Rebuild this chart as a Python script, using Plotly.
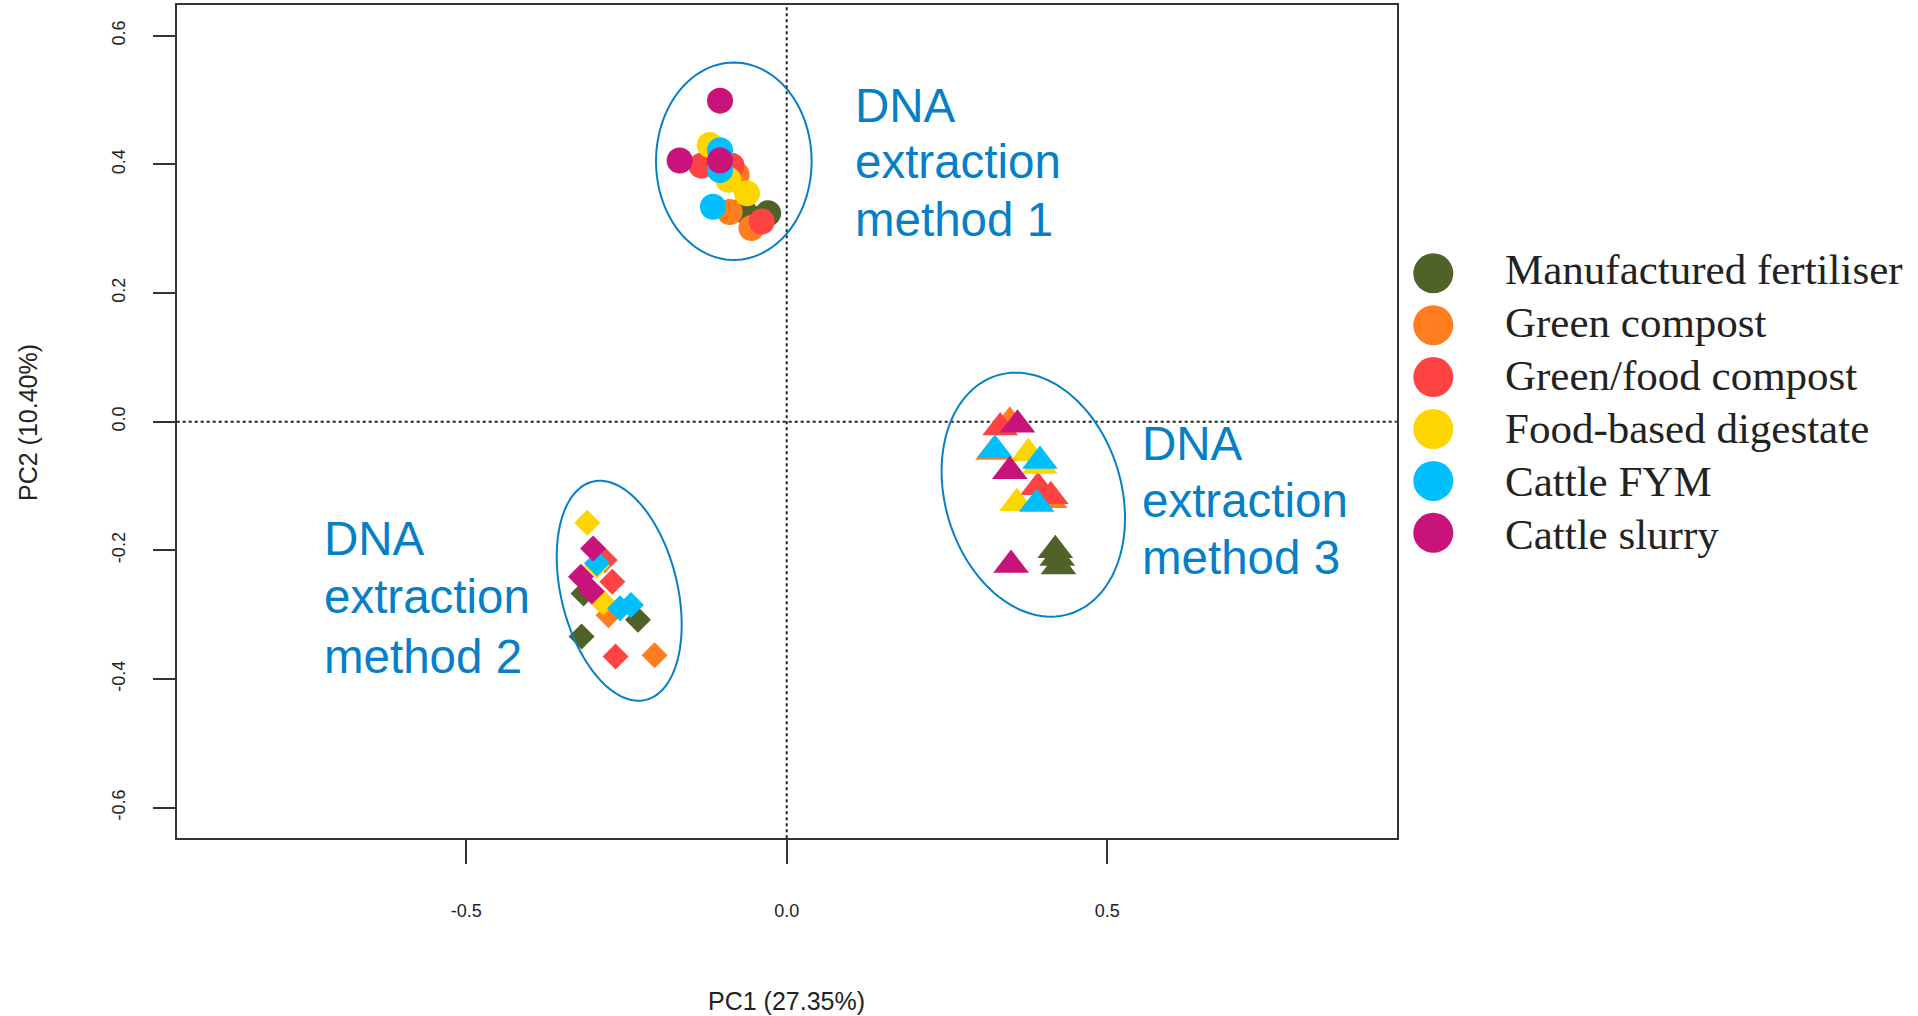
import math
import plotly.graph_objects as go

# ---------------- data ----------------
groups = ["Manufactured fertiliser", "Green compost", "Green/food compost",
          "Food-based digestate", "Cattle FYM", "Cattle slurry"]
group_codes = ["MF", "GC", "GFC", "FD", "FYM", "CS"]
group_colors = ["#4F6228", "#FF7D1F", "#FF4343", "#FFD500", "#00BFFF", "#C8137A"]

# DNA extraction method 1 (circles)
m1_group = ["MF", "MF", "MF", "GC", "GC", "GC", "GFC", "GFC", "GFC",
            "FD", "FD", "FD", "FYM", "FYM", "FYM", "CS", "CS", "CS"]
m1_pc1 = [-0.068, -0.029, -0.048, -0.078, -0.089, -0.055, -0.133, -0.039, -0.086,
          -0.120, -0.091, -0.062, -0.104, -0.104, -0.115, -0.104, -0.167, -0.104]
m1_pc2 = [0.329, 0.324, 0.315, 0.384, 0.326, 0.301, 0.398, 0.311, 0.398,
          0.430, 0.376, 0.355, 0.422, 0.391, 0.334, 0.499, 0.406, 0.406]

# DNA extraction method 2 (diamonds)
m2_group = ["MF", "MF", "MF", "GC", "GC", "GC", "GFC", "GFC", "GFC",
            "FD", "FD", "FD", "FYM", "FYM", "FYM", "CS", "CS", "CS"]
m2_pc1 = [-0.317, -0.232, -0.320, -0.278, -0.206, -0.294, -0.284, -0.272, -0.267,
          -0.311, -0.296, -0.286, -0.296, -0.260, -0.243, -0.302, -0.321, -0.304]
m2_pc2 = [-0.267, -0.308, -0.334, -0.301, -0.363, -0.274, -0.215, -0.249, -0.365,
          -0.157, -0.224, -0.281, -0.220, -0.290, -0.285, -0.197, -0.241, -0.264]

# DNA extraction method 3 (triangles)
m3_group = ["MF", "MF", "MF", "GC", "GC", "GC", "GFC", "GFC", "GFC",
            "FD", "FD", "FD", "FYM", "FYM", "FYM", "CS", "CS", "CS"]
m3_pc1 = [0.419, 0.422, 0.424, 0.348, 0.322, 0.410, 0.333, 0.392, 0.412,
          0.377, 0.359, 0.395, 0.325, 0.395, 0.390, 0.360, 0.348, 0.350]
m3_pc2 = [-0.200, -0.212, -0.225, 0.000, -0.047, -0.122, -0.009, -0.102, -0.116,
          -0.049, -0.127, -0.069, -0.044, -0.061, -0.128, -0.005, -0.077, -0.223]

x_tick_vals = [-0.5, 0.0, 0.5]
x_tick_text = ["-0.5", "0.0", "0.5"]
y_tick_vals = [-0.6, -0.4, -0.2, 0.0, 0.2, 0.4, 0.6]
y_tick_text = ["-0.6", "-0.4", "-0.2", "0.0", "0.2", "0.4", "0.6"]

x_title = "PC1 (27.35%)"
y_title = "PC2 (10.40%)"
method_labels = [["DNA", "extraction", "method 1"],
                 ["DNA", "extraction", "method 2"],
                 ["DNA", "extraction", "method 3"]]

# ---------------- layout geometry (pixels) ----------------
W, H = 1918, 1016
PL, PR, PT, PB = 176.7, 1396.7, 5.0, 838.3
XR = [-0.9516, 0.9516]
YR = [-0.6477, 0.6477]
SX = (PR - PL) / (XR[1] - XR[0])
SY = (PB - PT) / (YR[1] - YR[0])

BLUE = "#0580C8"
TXT = "#222222"

fig = go.Figure()

methods = [(m1_group, m1_pc1, m1_pc2, "circle", 26),
           (m2_group, m2_pc1, m2_pc2, "diamond", 20),
           (m3_group, m3_pc1, m3_pc2, "triangle-up", 31)]

for gname, code, col in zip(groups, group_codes, group_colors):
    for mg, mx, my, sym, size in methods:
        xs = [x for g, x in zip(mg, mx) if g == code]
        ys = [y for g, y in zip(mg, my) if g == code]
        fig.add_trace(go.Scatter(
            x=xs, y=ys, mode="markers", name=gname, showlegend=False,
            marker=dict(symbol=sym, size=size, color=col, line=dict(width=0)),
            xaxis="x", yaxis="y", hoverinfo="skip"))

# legend drawn on a pixel-scaled overlay axis
leg_x = 1433.3
leg_y0, leg_dy = 273.3, 51.9
txt_x = 1502.5
txt_y0, txt_dy = 269.1, 53.0
fig.add_trace(go.Scatter(
    x=[leg_x] * len(groups), y=[leg_y0 + i * leg_dy for i in range(len(groups))],
    mode="markers", showlegend=False, hoverinfo="skip",
    marker=dict(symbol="circle", size=40, color=group_colors, line=dict(width=0)),
    xaxis="x2", yaxis="y2"))

annotations = []
for i, gname in enumerate(groups):
    annotations.append(dict(
        x=txt_x, y=txt_y0 + i * txt_dy, xref="x2", yref="y2", text=gname,
        showarrow=False, xanchor="left", yanchor="middle",
        font=dict(family="Liberation Serif, Times New Roman, serif", size=43, color=TXT)))

# method text blocks: left x, baselines
block_left = [853.3, 321.7, 1139.5]
block_base = [[121.7, 178.3, 236.0], [555.0, 613.3, 672.7], [460.0, 516.7, 574.3]]
FS = 47.5
for lines, bx, bases in zip(method_labels, block_left, block_base):
    for line, by in zip(lines, bases):
        annotations.append(dict(
            x=bx, y=by - 0.3465 * FS, xref="x2", yref="y2", text=line,
            showarrow=False, xanchor="left", yanchor="middle",
            font=dict(family="Liberation Sans, Arial, sans-serif", size=FS, color=BLUE)))

# axis titles
annotations.append(dict(x=786.7, y=1001.0, xref="x2", yref="y2", text=x_title,
                        showarrow=False, xanchor="center", yanchor="middle",
                        font=dict(family="Liberation Sans, Arial, sans-serif", size=25, color=TXT)))
annotations.append(dict(x=28, y=423, xref="x2", yref="y2", text=y_title, textangle=-90,
                        showarrow=False, xanchor="center", yanchor="middle",
                        font=dict(family="Liberation Sans, Arial, sans-serif", size=25, color=TXT)))

# ellipses (centre in data units, semi-axes in pixels, tilt in degrees)
ell_cx = [-0.0825, -0.2613, 0.3847]
ell_cy = [0.4048, -0.2629, -0.1135]
ell_a = [98.7, 112.3, 124.6]
ell_b = [77.8, 58.2, 88.1]
ell_tilt = [0.0, 13.7, 16.8]

shapes = []
for cx, cy, a, b, t in zip(ell_cx, ell_cy, ell_a, ell_b, ell_tilt):
    th = math.radians(t)
    ux, uy = -math.sin(th), -math.cos(th)
    vx, vy = math.cos(th), -math.sin(th)
    pts = []
    for k in range(121):
        p = 2 * math.pi * k / 120
        dx = a * math.cos(p) * ux + b * math.sin(p) * vx
        dy = a * math.cos(p) * uy + b * math.sin(p) * vy
        pts.append((cx + dx / SX, cy - dy / SY))
    path = "M " + " L ".join(f"{x:.5f},{y:.5f}" for x, y in pts) + " Z"
    shapes.append(dict(type="path", path=path, xref="x", yref="y",
                       line=dict(color=BLUE, width=2), layer="above"))

# dotted reference lines
shapes.append(dict(type="line", xref="x domain", yref="y", x0=0, x1=1, y0=0, y1=0,
                   line=dict(color="#222", width=2, dash="dot"), layer="below"))
shapes.append(dict(type="line", xref="x", yref="y domain", x0=0, x1=0, y0=0, y1=1,
                   line=dict(color="#222", width=2, dash="dot"), layer="below"))

tickfont = dict(family="Liberation Sans, Arial, sans-serif", size=18, color=TXT)

fig.update_layout(
    width=W, height=H, margin=dict(l=0, r=0, t=0, b=0),
    paper_bgcolor="white", plot_bgcolor="rgba(0,0,0,0)",
    showlegend=False,
    xaxis=dict(domain=[PL / W, PR / W], range=XR, tickvals=x_tick_vals, ticktext=x_tick_text,
               ticks="outside", ticklen=24, tickwidth=2, tickcolor="#333",
               showline=True, linewidth=2, linecolor="#333", mirror=True,
               showgrid=False, zeroline=False, tickfont=tickfont, ticklabelstandoff=31,
               anchor="y", fixedrange=True),
    yaxis=dict(domain=[1 - PB / H, 1 - PT / H], range=YR, tickvals=y_tick_vals, ticktext=y_tick_text,
               ticks="outside", ticklen=22, tickwidth=2, tickcolor="#333", tickangle=-90,
               showline=True, linewidth=2, linecolor="#333", mirror=True,
               showgrid=False, zeroline=False, tickfont=tickfont, ticklabelstandoff=21,
               anchor="x", fixedrange=True),
    xaxis2=dict(domain=[0, 1], range=[0, W], visible=False, anchor="y2", fixedrange=True),
    yaxis2=dict(domain=[0, 1], range=[H, 0], visible=False, anchor="x2", fixedrange=True),
    annotations=annotations, shapes=shapes,
)

fig.write_html("out.html", config={"displayModeBar": False},
               post_script="document.body.style.margin='0';document.body.style.overflow='hidden';")
